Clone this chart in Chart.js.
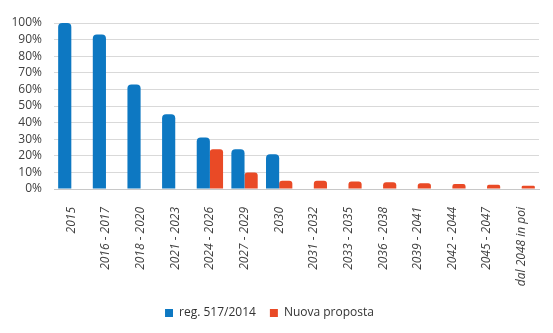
<!DOCTYPE html>
<html>
<head>
<meta charset="utf-8">
<script src="https://cdn.jsdelivr.net/npm/chart.js@4/dist/chart.umd.min.js"></script>
<style>
  html, body { margin: 0; padding: 0; background: #fff; }
  #wrap { width: 553px; height: 333px; }
</style>
</head>
<body>
<div id="wrap"><canvas id="chart"></canvas></div>
<script>
// categories (periods) and the two series
const periods = ["2015", "2016 - 2017", "2018 - 2020", "2021 - 2023", "2024 - 2026",
  "2027 - 2029", "2030", "2031 - 2032", "2033 - 2035", "2036 - 2038",
  "2039 - 2041", "2042 - 2044", "2045 - 2047", "dal 2048 in poi"];
const regValues = [100, 93, 63, 45, 31, 24, 21, null, null, null, null, null, null, null];
const nuovaValues = [null, null, null, null, 24, 10, 5, 5, 4.5, 4, 3.5, 3, 2.5, 2];
const yTicks = [0, 10, 20, 30, 40, 50, 60, 70, 80, 90, 100];

const textColor = "#404040";
const fontFamily = "'Open Sans', sans-serif";

new Chart(document.getElementById("chart"), {
  type: "bar",
  data: {
    labels: periods,
    datasets: [
      {
        label: "reg. 517/2014",
        data: regValues,
        backgroundColor: "#0d78c2",
        borderRadius: { topLeft: 4, topRight: 4 },
        borderSkipped: "bottom",
      },
      {
        label: "Nuova proposta",
        data: nuovaValues,
        backgroundColor: "#e94a26",
        borderRadius: { topLeft: 3, topRight: 3 },
        borderSkipped: "bottom",
      },
    ],
  },
  options: {
    responsive: true,
    maintainAspectRatio: false,
    animation: false,
    datasets: { bar: { categoryPercentage: 0.76, barPercentage: 1 } },
    layout: { padding: { top: 23, right: 14, bottom: 4, left: 0 } },
    plugins: {
      tooltip: { enabled: false },
      legend: {
        position: "bottom",
        labels: {
          boxWidth: 8,
          boxHeight: 8,
          padding: 14,
          color: "#333",
          font: { family: fontFamily, size: 12 },
        },
      },
    },
    scales: {
      x: {
        afterFit: (scale) => { scale.height = 104; },
        grid: { display: false },
        border: { color: "#c8c8c8" },
        ticks: {
          minRotation: 90,
          maxRotation: 90,
          padding: 10,
          autoSkip: false,
          color: textColor,
          font: { family: fontFamily, size: 12, style: "italic" },
        },
      },
      y: {
        min: 0,
        max: 100,
        afterFit: (scale) => { scale.width = 54; },
        afterBuildTicks: (scale) => { scale.ticks = yTicks.map(v => ({ value: v })); },
        grid: { color: "#d9d9d9", drawTicks: false },
        border: { display: false },
        ticks: {
          autoSkip: false,
          padding: 12,
          color: textColor,
          font: { family: fontFamily, size: 12 },
          callback: (v) => v + "%",
        },
      },
    },
  },
});
</script>
</body>
</html>
